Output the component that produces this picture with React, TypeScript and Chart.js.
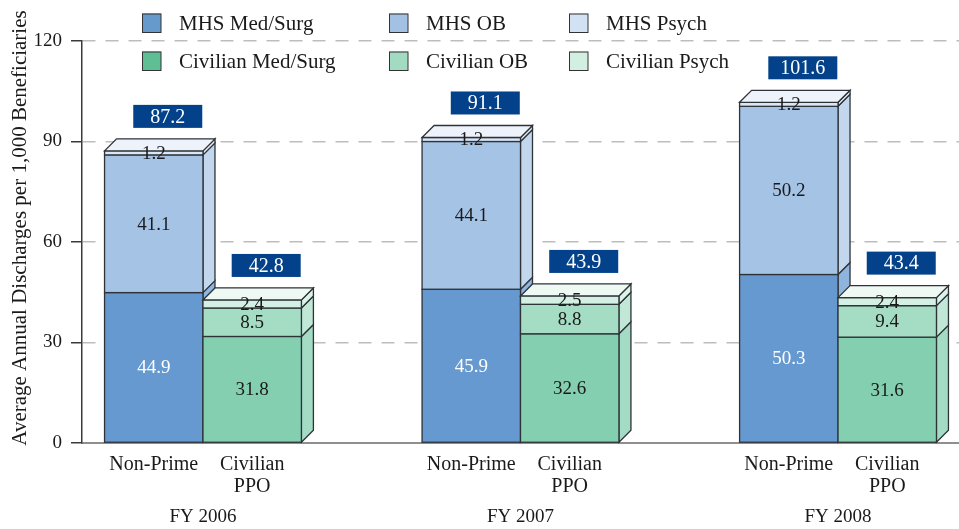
import React, { useEffect, useRef } from 'react';
import { Chart, registerables } from 'chart.js';

Chart.register(...registerables);

// ---------------- data ----------------
const groups = ['FY 2006', 'FY 2007', 'FY 2008'];
const subLabels = [['Non-Prime'], ['Civilian', 'PPO']];
const mhsMedSurg = [44.9, 45.9, 50.3];
const mhsOB = [41.1, 44.1, 50.2];
const mhsPsych = [1.2, 1.2, 1.2];
const civMedSurg = [31.8, 32.6, 31.6];
const civOB = [8.5, 8.8, 9.4];
const civPsych = [2.4, 2.5, 2.4];
const mhsTotals = [87.2, 91.1, 101.6];
const civTotals = [42.8, 43.9, 43.4];
const yMin = 0;
const yMax = 120;
const yStep = 30;
const yTitle = 'Average Annual Discharges per 1,000 Beneficiaries';

// ---------------- styles ----------------
const FONT = "'Liberation Serif', 'Times New Roman', serif";
const TEXT = '#1a1a1a';
const DEPTH = 12;
const GROUP_FILL = 0.62;
const X_PAD = 0.381;
const OUTLINE = '#2e3338';
const TOTAL_BG = '#03428a';

const series = [
  { label: 'MHS Med/Surg', data: mhsMedSurg, stack: 'mhs', front: '#6699d0', side: '#8fb4de', legend: '#6699cc', text: '#ffffff' },
  { label: 'MHS OB', data: mhsOB, stack: 'mhs', front: '#a4c3e5', side: '#c2d7ee', legend: '#a3c1e3', text: TEXT },
  { label: 'MHS Psych', data: mhsPsych, stack: 'mhs', front: '#dce7f5', side: '#e4edf8', legend: '#d2e1f3', text: TEXT },
  { label: 'Civilian Med/Surg', data: civMedSurg, stack: 'civ', front: '#84cfb0', side: '#a3dbc4', legend: '#5fbf94', text: TEXT },
  { label: 'Civilian OB', data: civOB, stack: 'civ', front: '#a4dcc4', side: '#c1e7d7', legend: '#a2dbc2', text: TEXT },
  { label: 'Civilian Psych', data: civPsych, stack: 'civ', front: '#d4f0e4', side: '#dcf3ea', legend: '#d2efe2', text: TEXT },
];
const topFace: Record<string, string> = { mhs: '#eef3fb', civ: '#eef9f4' };
const totals: Record<string, number[]> = { mhs: mhsTotals, civ: civTotals };
const stackOrder = ['mhs', 'civ'];

// legend layout
const legendCols = [142, 389, 569];
const legendRows = [23, 61];

const bars3d = {
  id: 'bars3d',
  beforeDatasetDraw() {
    return false;
  },
  afterDatasetsDraw(chart: any) {
    const ctx: CanvasRenderingContext2D = chart.ctx;
    const metas = chart.getSortedVisibleDatasetMetas().slice().sort((a: any, b: any) => a.index - b.index);
    ctx.save();
    ctx.lineJoin = 'miter';
    for (let i = 0; i < groups.length; i++) {
      for (const st of stackOrder) {
        const segs = metas.filter((m: any) => m.stack === st);
        let topY = Infinity;
        let topX = 0;
        let topW = 0;
        segs.forEach((m: any) => {
          const el = m.data[i];
          const ds = series[m.index];
          const { x, y, base, width } = el.getProps(['x', 'y', 'base', 'width'], true);
          const left = x - width / 2;
          const right = x + width / 2;
          const top = Math.min(y, base);
          const bottom = Math.max(y, base);
          ctx.lineWidth = 1.3;
          ctx.strokeStyle = OUTLINE;
          // side face
          ctx.beginPath();
          ctx.moveTo(right, bottom);
          ctx.lineTo(right + DEPTH, bottom - DEPTH);
          ctx.lineTo(right + DEPTH, top - DEPTH);
          ctx.lineTo(right, top);
          ctx.closePath();
          ctx.fillStyle = ds.side;
          ctx.fill();
          ctx.stroke();
          // front face
          ctx.fillStyle = ds.front;
          ctx.fillRect(left, top, width, bottom - top);
          ctx.strokeRect(left, top, width, bottom - top);
          if (top < topY) {
            topY = top;
            topX = left;
            topW = width;
          }
        });
        // top face
        ctx.beginPath();
        ctx.moveTo(topX, topY);
        ctx.lineTo(topX + DEPTH, topY - DEPTH);
        ctx.lineTo(topX + topW + DEPTH, topY - DEPTH);
        ctx.lineTo(topX + topW, topY);
        ctx.closePath();
        ctx.fillStyle = topFace[st];
        ctx.fill();
        ctx.stroke();
        // value labels
        segs.forEach((m: any) => {
          const el = m.data[i];
          const ds = series[m.index];
          const { x, y, base } = el.getProps(['x', 'y', 'base'], true);
          ctx.font = `19px ${FONT}`;
          ctx.fillStyle = ds.text;
          ctx.textAlign = 'center';
          ctx.textBaseline = 'middle';
          ctx.fillText(ds.data[i].toFixed(1), x, (y + base) / 2 + 1);
        });
        // total box
        const cx = topX + topW / 2 + DEPTH + 2;
        const bw = 69;
        const bh = 23;
        const by = topY - 23 - bh;
        ctx.fillStyle = TOTAL_BG;
        ctx.fillRect(cx - bw / 2, by, bw, bh);
        ctx.font = `20px ${FONT}`;
        ctx.fillStyle = '#ffffff';
        ctx.textAlign = 'center';
        ctx.textBaseline = 'middle';
        ctx.fillText(totals[st][i].toFixed(1), cx, by + bh / 2 + 1);
      }
    }
    ctx.restore();
  },
  afterDraw(chart: any) {
    const ctx: CanvasRenderingContext2D = chart.ctx;
    ctx.save();
    // legend
    series.forEach((s, idx) => {
      const col = idx % 3;
      const row = Math.floor(idx / 3);
      const mx = legendCols[col];
      const my = legendRows[row];
      ctx.fillStyle = s.legend;
      ctx.fillRect(mx, my - 9.5, 19, 19);
      ctx.lineWidth = 1;
      ctx.strokeStyle = '#333';
      ctx.strokeRect(mx + 0.5, my - 9, 18.5, 18.5);
      ctx.font = `21px ${FONT}`;
      ctx.fillStyle = TEXT;
      ctx.textAlign = 'left';
      ctx.textBaseline = 'middle';
      ctx.fillText(s.label, mx + 37, my + 1);
    });
    // y axis title
    ctx.translate(20, 228);
    ctx.rotate(-Math.PI / 2);
    ctx.font = `21px ${FONT}`;
    ctx.fillStyle = TEXT;
    ctx.textAlign = 'center';
    ctx.textBaseline = 'middle';
    ctx.fillText(yTitle, 0, 0);
    ctx.restore();
  },
};

export default function App() {
  const ref = useRef<HTMLCanvasElement | null>(null);
  useEffect(() => {
    if (!ref.current) return;
    const xMin = -X_PAD;
    const xMax = groups.length - 1 + X_PAD;
    const chart = new Chart(ref.current, {
      type: 'bar',
      data: {
        datasets: series.map((s) => ({
          label: s.label,
          stack: s.stack,
          data: s.data.map((v, i) => ({ x: i, y: v })),
          backgroundColor: s.front,
          xAxisID: 'x',
          yAxisID: 'y',
        })),
      },
      options: {
        animation: false,
        responsive: false,
        devicePixelRatio: 1,
        layout: { padding: { top: 41, left: 0, right: 0, bottom: 0 } },
        datasets: { bar: { categoryPercentage: GROUP_FILL, barPercentage: 1 } },
        plugins: { legend: { display: false }, tooltip: { enabled: false }, title: { display: false } },
        scales: {
          x: {
            type: 'linear',
            position: 'bottom',
            weight: 1,
            min: xMin,
            max: xMax,
            offset: false,
            bounds: 'data',
            grid: { display: false, drawTicks: false },
            border: { display: false },
            afterBuildTicks: (s: any) => {
              s.ticks = groups.map((_, i) => ({ value: i }));
            },
            afterFit: (s: any) => {
              s.height = 28;
            },
            ticks: {
              autoSkip: false,
              maxRotation: 0,
              padding: 5,
              color: TEXT,
              font: { family: FONT, size: 19, lineHeight: 1.2 },
              callback: (v: any) => groups[Math.round(Number(v))],
            },
          },
          xsub: {
            type: 'linear',
            position: 'bottom',
            weight: 0,
            min: xMin,
            max: xMax,
            offset: false,
            bounds: 'data',
            grid: { display: false, drawTicks: false },
            border: { display: true, color: '#8f8f8f', width: 2 },
            afterBuildTicks: (s: any) => {
              s.ticks = groups.flatMap((_, i) => [
                { value: i - GROUP_FILL / 4 },
                { value: i + GROUP_FILL / 4 },
              ]);
            },
            afterFit: (s: any) => {
              s.height = 58;
            },
            ticks: {
              autoSkip: false,
              maxRotation: 0,
              padding: 11,
              color: TEXT,
              font: { family: FONT, size: 20, lineHeight: 1.1 },
              callback: (_v: any, idx: number) => subLabels[idx % 2],
            },
          },
          y: {
            type: 'linear',
            position: 'left',
            stacked: true,
            min: yMin,
            max: yMax,
            afterFit: (s: any) => {
              s.width = 82;
            },
            grid: {
              color: (c: any) => (c.tick && c.tick.value === 0 ? 'rgba(0,0,0,0)' : '#bdbdbd'),
              lineWidth: 1.5,
              tickLength: 11,
              tickColor: '#3a3a3a',
              tickWidth: 1.5,
              tickBorderDash: [],
            },
            border: { display: true, color: '#3a3a3a', width: 1.5, dash: [13, 10] },
            ticks: {
              stepSize: yStep,
              padding: 9,
              color: TEXT,
              font: { family: FONT, size: 19 },
            },
          },
        },
      },
      plugins: [bars3d],
    } as any);
    return () => chart.destroy();
  }, []);
  return (
    <div style={{ position: 'fixed', left: 0, top: 0, width: 959, height: 529, background: '#fff' }}>
      <canvas ref={ref} width={959} height={529} style={{ display: 'block' }} />
    </div>
  );
}
